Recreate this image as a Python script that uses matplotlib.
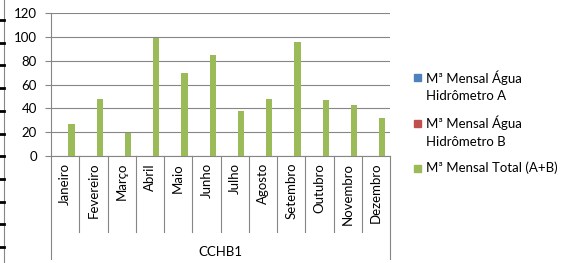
import matplotlib.pyplot as plt
import matplotlib.patches as mpatches
import numpy as np

plt.rcParams['font.family'] = ['Lato', 'DejaVu Sans']

meses = ["Janeiro", "Fevereiro", "Março", "Abril", "Maio", "Junho",
         "Julho", "Agosto", "Setembro", "Outubro", "Novembro", "Dezembro"]
hidro_a = [0] * 12
hidro_b = [0] * 12
total = [27, 48, 19, 99, 70, 85, 38, 48, 96, 47, 43, 32]
series_names = [["M³ Mensal Água", "Hidrômetro A"], ["M³ Mensal Água", "Hidrômetro B"],
                ["M³ Mensal Total (A+B)"]]
colors = ["#4F81BD", "#C0504D", "#9BBB59"]
grupo = "CCHB1"

W, H = 562, 263
fig = plt.figure(figsize=(W / 100, H / 100), dpi=100)
ax = fig.add_axes([51 / W, 1 - 156 / H, 339 / W, 143 / H])

x = np.arange(len(meses))
w = 1 / 4.5
for i, vals in enumerate([hidro_a, hidro_b, total]):
    ax.bar(x + (i - 1) * w, vals, width=w, color=colors[i], zorder=3)

ax.set_xlim(-0.5, len(meses) - 0.5)
ax.set_ylim(0, 120)
ax.set_yticks(range(0, 121, 20))
ax.yaxis.grid(True, color="#868686", linewidth=0.8, zorder=0)
ax.tick_params(axis='y', length=4, width=0.8, color="#868686", labelsize=9.5, pad=6)
ax.tick_params(axis='x', length=0, labelsize=9.5, pad=5)
ax.set_xticks(x)
ax.set_xticklabels(meses, rotation=90, va='top')
for s in ['top', 'right']:
    ax.spines[s].set_visible(False)
for s in ['left', 'bottom']:
    ax.spines[s].set_color("#868686")
    ax.spines[s].set_linewidth(0.8)

# separators under the category axis
trans = ax.get_xaxis_transform()
for b in np.arange(-0.5, len(meses), 1.0):
    low = -0.72 if b in (-0.5, len(meses) - 0.5) else -0.531
    ax.plot([b, b], [0, low], transform=trans, color="#868686", lw=0.8, clip_on=False)
ax.text((len(meses) - 1) / 2, -0.671, grupo, transform=trans, ha='center', va='center', fontsize=9.5)

# legend
leg_y = [78, 123, 168]
for lines, c, yy in zip(series_names, colors, leg_y):
    fig.patches.append(mpatches.Rectangle((414 / W, 1 - (yy + 3.5) / H), 7 / W, 7 / H,
                                          transform=fig.transFigure, color=c))
    for k, line in enumerate(lines):
        fig.text(426 / W, 1 - (yy + 18.5 * k) / H, line, fontsize=9.5, va='center', ha='left')

# left edge remnant of neighbouring chart
fig.add_artist(plt.Line2D([4 / W, 4 / W], [0, 1], color="#868686", lw=0.8))
for yy in np.arange(20, 263, 22.7):
    fig.add_artist(plt.Line2D([0, 4 / W], [1 - yy / H, 1 - yy / H], color="black", lw=2))

fig.savefig("out.png", dpi=100)
